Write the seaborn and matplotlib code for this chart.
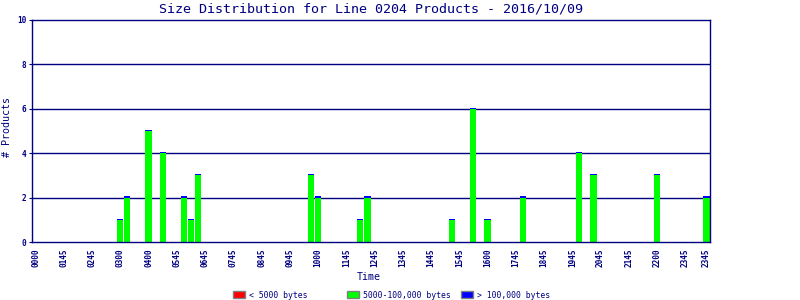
import matplotlib
matplotlib.use("Agg")
import matplotlib.pyplot as plt
from matplotlib.patches import Patch
from matplotlib.transforms import ScaledTranslation
import seaborn as sns
import pandas as pd

# ---- data ----
busy_times = ["0300", "0315", "0400", "0430", "0515", "0530", "0545", "0945", "1000",
              "1130", "1145", "1445", "1530", "1600", "1715", "1915", "1945", "2200", "2345"]
small_counts = [0, 0, 0, 0, 0, 0, 0, 0, 0, 0, 0, 0, 0, 0, 0, 0, 0, 0, 0]
mid_counts = [1, 2, 5, 4, 2, 1, 3, 3, 2, 1, 2, 1, 6, 1, 2, 4, 3, 3, 2]
large_counts = [0, 0, 0, 0, 0, 0, 0, 0, 0, 0, 0, 0, 0, 0, 0, 0, 0, 0, 0]
tick_labels = ["0000", "0145", "0245", "0300", "0400", "0545", "0645", "0745", "0845",
               "0945", "1000", "1145", "1245", "1345", "1445", "1545", "1600", "1745",
               "1845", "1945", "2045", "2145", "2200", "2345", "2345"]
legend_labels = ["< 5000 bytes", "5000-100,000 bytes", "> 100,000 bytes"]
title = "Size Distribution for Line 0204 Products - 2016/10/09"

# all 15-minute slots of the day (categories)
slots = [f"{h:02d}{m:02d}" for h in range(24) for m in (0, 15, 30, 45)]
df = pd.DataFrame({"slot": slots})
busy = pd.DataFrame({"slot": busy_times, "small": small_counts,
                     "mid": mid_counts, "large": large_counts})
df = df.merge(busy, on="slot", how="left").fillna(0)
df["total"] = df["small"] + df["mid"] + df["large"]
df["sm"] = df["small"] + df["mid"]

NAVY = "#000080"
RED, GREEN, BLUE = "#FF0000", "#00FF00", "#0000FF"

sns.set_style("white")
plt.rcParams["font.family"] = ["DejaVu Sans Mono", "DejaVu Sans"]

fig = plt.figure(figsize=(8, 3), dpi=100)
ax = fig.add_axes([32 / 800, 1 - 242 / 300, 678 / 800, 222 / 300])

# blue (top segment, drawn slightly raised so a thin cap shows), then green, then red
sns.barplot(data=df, x="slot", y="total", order=slots, color=BLUE, saturation=1,
            width=0.86, linewidth=0, ax=ax, zorder=2)
n_blue = len(ax.patches)
shift = ScaledTranslation(0, 1.2 / 100, fig.dpi_scale_trans)
for p in ax.patches[:n_blue]:
    if p.get_height() > 0:
        p.set_transform(ax.transData + shift)
    else:
        p.set_visible(False)
sns.barplot(data=df, x="slot", y="sm", order=slots, color=GREEN, saturation=1,
            width=0.86, linewidth=0, ax=ax, zorder=3)
sns.barplot(data=df, x="slot", y="small", order=slots, color=RED, saturation=1,
            width=0.86, linewidth=0, ax=ax, zorder=4)

ax.set_xlim(-0.5, len(slots) - 0.5)
ax.set_ylim(0, 10)
ax.set_yticks([0, 2, 4, 6, 8, 10])
ax.set_yticklabels(["0", "2", "4", "6", "8", "10"])
tick_pos = list(range(0, 96, 4)) + [95]
ax.set_xticks(tick_pos)
ax.set_xticklabels(tick_labels, rotation=90)

for y in [2, 4, 6, 8]:
    ax.axhline(y, color=NAVY, lw=1.0, zorder=1)

for s in ax.spines.values():
    s.set_color(NAVY)
    s.set_linewidth(1.0)
    s.set_visible(True)
    s.set_zorder(5)

ax.tick_params(axis="x", length=0, pad=5, labelsize=5.6, colors=NAVY)
ax.tick_params(axis="y", length=2, width=0.8, pad=2, labelsize=5.6, colors=NAVY, left=True)
for lab in ax.get_xticklabels() + ax.get_yticklabels():
    lab.set_fontweight("bold")
ax.set_xlabel("")
ax.set_ylabel("")

fig.text(371 / 800, 1 - 9 / 300, title, ha="center", va="center", color=NAVY, fontsize=9.6)
fig.text(369 / 800, 1 - 277 / 300, "Time", ha="center", va="center", color=NAVY, fontsize=7.2)
fig.text(7 / 800, 1 - 127 / 300, "# Products", ha="center", va="center", color=NAVY,
         fontsize=7.2, rotation=90)

for x, lab, col in zip([233, 347, 461], legend_labels, [RED, GREEN, BLUE]):
    h = Patch(facecolor=col, edgecolor="#808080", linewidth=1.0)
    fig.legend(handles=[h], labels=[lab], loc="center left",
               bbox_to_anchor=(x / 800, 1 - 295 / 300), frameon=False,
               borderpad=0, borderaxespad=0, handlelength=1.45, handleheight=1.0,
               handletextpad=0.45, prop={"size": 5.9}, labelcolor=NAVY)

fig.savefig("out.png", dpi=100)
